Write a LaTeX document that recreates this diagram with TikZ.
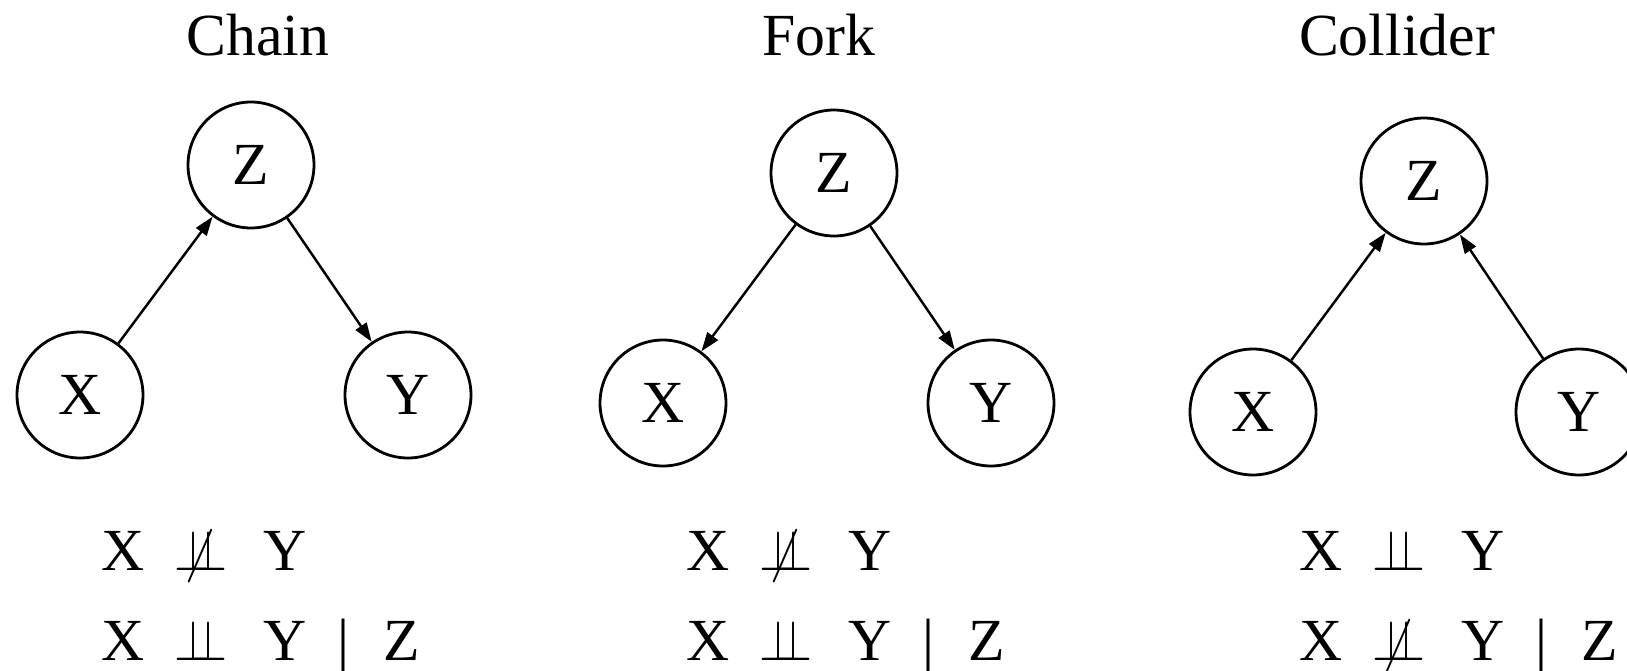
\documentclass[tikz,border=0pt]{standalone}
\usepackage{fontspec}
\setmainfont{Liberation Serif}
\usepackage{graphicx}
\usepackage{tikz}
\usetikzlibrary{arrows.meta, positioning}
\newcommand{\indep}{\scalebox{2.78}[3.28]{\fontsize{10}{12}\selectfont$\perp\mkern-8.5mu\perp$}}
\newcommand{\nindep}{\scalebox{2.78}[3.28]{\fontsize{10}{12}\selectfont$\mkern2.8mu\not\mkern-2.8mu\perp\mkern-8.5mu\perp$}}
\tikzstyle{var} = [circle, draw, line width=1.6pt, minimum size=2.52cm, inner sep=0pt, font=\fontsize{34}{40}\selectfont]
\tikzstyle{arrow} = [-{Triangle[length=0.38cm, width=0.26cm]}, line width=1.4pt]
\tikzstyle{title} = [anchor=base, inner sep=0pt, font=\fontsize{34}{40}\selectfont]
\tikzstyle{rel} = [anchor=base west, inner sep=0pt, font=\fontsize{34}{40}\selectfont]

\begin{document}
\begin{tikzpicture}[x=0.02cm, y=-0.02cm]
    \useasboundingbox (0,0) rectangle (1627,670);
    % Chain
    \begin{scope}[shift={(251,165)}]
        \node[var] (chZ) at (0,0) {Z};
        \node[var] (chX) at (-171,230) {X};
        \node[var] (chY) at (157,230) {Y};
        \draw[arrow] (chX) -- (chZ);
        \draw[arrow] (chZ) -- (chY);
    \end{scope}
    \node[title] (chTitle) at (258,55) {Chain};
    \node[rel] (chMarg) at (101,570) {X\hspace{.5em}\nindep\hspace{.6em}Y};
    \node[rel] (chCond) at (101,660) {X\hspace{.5em}\indep\hspace{.6em}Y\hspace{.52em}|\hspace{.58em}Z};

    % Fork
    \begin{scope}[shift={(834,173)}]
        \node[var] (fkZ) at (0,0) {Z};
        \node[var] (fkX) at (-171,230) {X};
        \node[var] (fkY) at (157,230) {Y};
        \draw[arrow] (fkZ) -- (fkX);
        \draw[arrow] (fkZ) -- (fkY);
    \end{scope}
    \node[title] (fkTitle) at (819,55) {Fork};
    \node[rel] (fkMarg) at (686,570) {X\hspace{.5em}\nindep\hspace{.6em}Y};
    \node[rel] (fkCond) at (686,660) {X\hspace{.5em}\indep\hspace{.6em}Y\hspace{.52em}|\hspace{.58em}Z};

    % Collider
    \begin{scope}[shift={(1424,181)}]
        \node[var] (coZ) at (0,0) {Z};
        \node[var] (coX) at (-171,231) {X};
        \node[var] (coY) at (155,231) {Y};
        \draw[arrow] (coX) -- (coZ);
        \draw[arrow] (coY) -- (coZ);
    \end{scope}
    \node[title] (coTitle) at (1397,55) {Collider};
    \node[rel] (coMarg) at (1299,570) {X\hspace{.5em}\indep\hspace{.6em}Y};
    \node[rel] (coCond) at (1299,660) {X\hspace{.5em}\nindep\hspace{.6em}Y\hspace{.52em}|\hspace{.58em}Z};
\end{tikzpicture}
\end{document}
